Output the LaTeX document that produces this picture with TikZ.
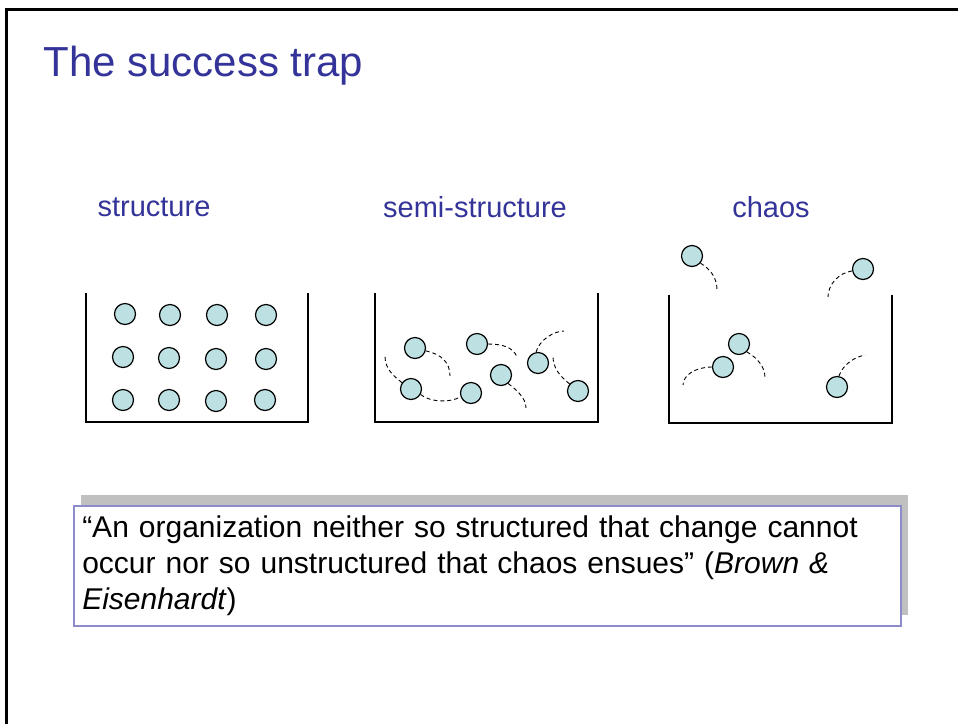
\documentclass[tikz,border=0pt]{standalone}
\usepackage{fontspec}
\setmainfont{Liberation Sans}
\usetikzlibrary{shadows}
\definecolor{titleblue}{RGB}{51,51,153}
\definecolor{ballfill}{RGB}{189,224,227}
\definecolor{boxline}{RGB}{140,140,200}
\definecolor{shadowgrey}{RGB}{192,192,192}
\begin{document}
\begin{tikzpicture}[x=1pt,y=-1pt,
  ball/.style={circle,draw,fill=ballfill,line width=1.2pt,minimum size=21pt,inner sep=0pt},
  trail/.style={dashed,dash pattern=on 4pt off 3pt,line width=0.9pt},
  tank/.style={line width=1.3pt},
  label/.style={text=titleblue,font=\fontsize{29}{34}\selectfont,anchor=base},
  quotebox/.style={draw=boxline,line width=1.5pt,fill=white,anchor=north west,
    minimum width=827pt,minimum height=120pt,text width=810pt,align=left,
    inner sep=8pt,font=\fontsize{30}{36}\selectfont,
    drop shadow={shadow xshift=7pt,shadow yshift=11pt,fill=shadowgrey,opacity=1}}]
  \useasboundingbox (0,0) rectangle (958,724);
  \draw[line width=3pt] (6,724) -- (6,9) -- (958,9); % slide frame
  \node[anchor=base west,text=titleblue,font=\fontsize{42}{50}\selectfont] (title) at (40,76) {The success trap};

  % headings
  \node[label] (lstruct) at (154,216) {structure};
  \node[label] (lsemi) at (475,217) {semi-structure};
  \node[label] (lchaos) at (771,217) {chaos};

  % the three tanks
  \draw[tank] (86,293) -- (86,422) -- (308,422) -- (308,293);
  \draw[tank] (375,293) -- (375,422) -- (598,422) -- (598,293);
  \draw[tank] (669,295) -- (669,423) -- (892,423) -- (892,295);

  % structure: balls in a grid
  \foreach \x/\y [count=\i] in {125/314,170/315,217/315,266/315,
                                123/357,169/358,216/359,266/359,
                                123/400,169/400,216/401,265/400}
    \node[ball] (s\i) at (\x,\y) {};

  % semi-structure: balls with short trails
  \node[ball] (ma) at (415,348) {};
  \node[ball] (mb) at (477,344) {};
  \node[ball] (mc) at (501,375) {};
  \node[ball] (md) at (538,363) {};
  \node[ball] (me) at (411,389) {};
  \node[ball] (mf) at (471,393) {};
  \node[ball] (mg) at (578,391) {};
  \coordinate (ma-end) at (450,376);
  \coordinate (mb-end) at (517,357);
  \coordinate (mc-end) at (526,408);
  \coordinate (md-end) at (564,331);
  \coordinate (me-end) at (385,356);
  \coordinate (mg-end) at (553,356);
  \draw[trail] (ma.-15) .. controls +(15,3) and +(0,-14) .. (ma-end);
  \draw[trail] (mb.0) .. controls +(14,0) and +(-4,-10) .. (mb-end);
  \draw[trail] (mc.-50) .. controls +(8,6) and +(0,-10) .. (mc-end);
  \draw[trail] (md.100) .. controls +(3,-12) and +(-10,0) .. (md-end);
  \draw[trail] (me.145) .. controls +(-10,-8) and +(0,12) .. (me-end);
  \draw[trail] (me.-30) .. controls +(10,8) and +(-10,6) .. (mf.200);
  \draw[trail] (mg.140) .. controls +(-10,-8) and +(0,12) .. (mg-end);

  % chaos: balls flying off
  \node[ball] (ch) at (692,256) {};
  \node[ball] (ci) at (863,269) {};
  \node[ball] (cj) at (739,344) {};
  \node[ball] (ck) at (723,367) {};
  \node[ball] (cl) at (837,387) {};
  \coordinate (ch-end) at (717,290);
  \coordinate (ci-end) at (828,297);
  \coordinate (cj-end) at (765,378);
  \coordinate (ck-end) at (683,385);
  \coordinate (cl-end) at (865,355);
  \draw[trail] (ch.-40) .. controls +(10,6) and +(0,-12) .. (ch-end);
  \draw[trail] (ci.190) .. controls +(-14,2) and +(0,-12) .. (ci-end);
  \draw[trail] (cj.-45) .. controls +(10,6) and +(0,-12) .. (cj-end);
  \draw[trail] (ck.180) .. controls +(-16,0) and +(0,-10) .. (ck-end);
  \draw[trail] (cl.80) .. controls +(4,-12) and +(-10,2) .. (cl-end);

  % quotation
  \node[quotebox] (quote) at (73,505) {“An organization neither so structured that change cannot\\
    occur nor so unstructured that chaos ensues” (\textit{Brown \&}\\
    \textit{Eisenhardt})};
\end{tikzpicture}
\end{document}
